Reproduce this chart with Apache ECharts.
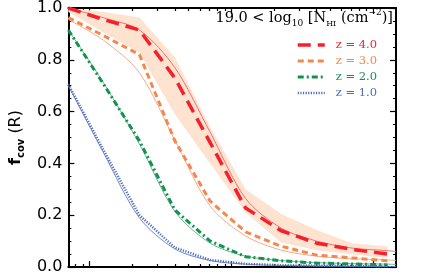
<!DOCTYPE html>
<html><head><meta charset="utf-8">
<script src="https://cdn.jsdelivr.net/npm/echarts@6/dist/echarts.min.js"></script>
<style>html,body{margin:0;padding:0;background:#fff}#c{width:440px;height:275px}</style>
</head><body><div id="c"></div>
<script>
// radius bins (log x axis) and model sampling
const R      = [7.1, 12.6, 22.5, 40, 71, 126, 225, 400, 710, 1265];
const Rmodel = [7.1, 12.6, 22.5, 40, 71, 126, 225, 400, 710, 1265, 1450];
const xRange = [7.1, 1450];

// measured covering fractions
const z4 = [1.0, 0.955, 0.915, 0.73, 0.48, 0.228, 0.14, 0.092, 0.068, 0.05];
const z3 = [0.963, 0.893, 0.82, 0.487, 0.254, 0.136, 0.08, 0.046, 0.035, 0.024];
const z2 = [0.915, 0.705, 0.487, 0.22, 0.1, 0.04, 0.024, 0.015, 0.012, 0.008];
const z1 = [0.705, 0.45, 0.2, 0.075, 0.027, 0.012, 0.007, 0.005, 0.004, 0.003];

// z=4 uncertainty band
const z4Hi = [1.0, 0.985, 0.963, 0.81, 0.54, 0.30, 0.205, 0.143, 0.092, 0.08];
const z4Lo = [0.985, 0.905, 0.827, 0.59, 0.40, 0.21, 0.095, 0.065, 0.048, 0.035];

// model curves (thin lines)
const m4 = [1.0, 0.962, 0.915, 0.77, 0.52, 0.265, 0.15, 0.10, 0.073, 0.063, 0.06];
const m3 = [0.955, 0.875, 0.75, 0.49, 0.235, 0.12, 0.065, 0.042, 0.032, 0.027, 0.025];
const m2 = [0.915, 0.71, 0.475, 0.215, 0.092, 0.042, 0.025, 0.017, 0.013, 0.011, 0.01];
const m1 = [0.70, 0.44, 0.19, 0.07, 0.025, 0.011, 0.006, 0.004, 0.003, 0.002, 0.002];

const names = ['z = 4.0', 'z = 3.0', 'z = 2.0', 'z = 1.0'];
const yTicks = [0, 0.2, 0.4, 0.6, 0.8, 1.0];
const xMajorTicks = [10, 100, 1000];
const xMinorTicks = [8, 9, 20, 30, 40, 50, 60, 70, 80, 90, 200, 300, 400, 500, 600, 700, 800, 900];

const RED = '#f5202c', ORANGE = '#f4874b', GREEN = '#13924f', BLUE = '#4b6cbf';
const RED_T = '#f47070', ORANGE_T = '#f7ab8c', GREEN_T = '#62bd8d', BLUE_T = '#7288c8';
const BAND = '#fde3d0';

const L = Math.log10;
const pts = (xs, ys) => xs.map((x, i) => [L(x), ys[i]]);

function xAx(pos, vals, len, showLine) {
  return {
    type: 'value', position: pos, min: L(xRange[0]), max: L(xRange[1]),
    axisLine: { show: showLine, onZero: false, lineStyle: { color: '#000', width: 2 } },
    axisTick: { show: true, inside: true, length: len, customValues: vals.map(L),
                lineStyle: { color: '#000', width: 1.2 } },
    axisLabel: { show: false }, splitLine: { show: false }
  };
}
function yAx(pos, labels) {
  return {
    type: 'value', position: pos, min: yTicks[0], max: yTicks[yTicks.length - 1], interval: 0.2,
    axisLine: { show: true, lineStyle: { color: '#000', width: 2 } },
    axisTick: { show: true, inside: true, length: 6, lineStyle: { color: '#000', width: 1.2 } },
    minorTick: { show: true, splitNumber: 4, length: 3, lineStyle: { color: '#000', width: 1 } },
    axisLabel: { show: labels, fontFamily: 'DejaVu Sans', fontSize: 16, color: '#000', margin: 6,
                 formatter: v => v.toFixed(1) },
    splitLine: { show: false }, minorSplitLine: { show: false }
  };
}

const yLeft = yAx('left', true);
yLeft.name = '{f|f}{s|cov} {r|(R)}';
yLeft.nameLocation = 'middle';
yLeft.nameGap = 42;
yLeft.nameTextStyle = {
  color: '#000', fontFamily: 'DejaVu Sans', fontSize: 16,
  rich: {
    f: { fontSize: 16, fontWeight: 'bold', lineHeight: 20, fontFamily: 'DejaVu Sans', color: '#000' },
    s: { fontSize: 10, fontWeight: 'bold', lineHeight: 10, verticalAlign: 'bottom', fontFamily: 'DejaVu Sans', color: '#000' },
    r: { fontSize: 16, lineHeight: 20, fontFamily: 'DejaVu Sans', color: '#000' }
  }
};

function thick(name, ys, color, width, dash) {
  return { name, type: 'line', data: pts(R, ys), showSymbol: false, symbol: 'none', z: 4,
           lineStyle: { color, width, type: dash, cap: 'butt' }, itemStyle: { color } };
}
function thin(ys, color) {
  return { type: 'line', data: pts(Rmodel, ys), showSymbol: false, symbol: 'none', z: 3,
           smooth: 0.3, lineStyle: { color, width: 1 }, silent: true };
}

const chart = echarts.init(document.getElementById('c'), null, { renderer: 'canvas' });
chart.setOption({
  animation: false,
  backgroundColor: '#fff',
  grid: { left: 66, right: 44, top: 1, bottom: 3, containLabel: false },
  title: {
    text: '19.0 < log{sub|10} [N{sub2|HI} (cm{sup|−2})]',
    right: 47, top: 8, padding: 0,
    textStyle: {
      fontFamily: 'DejaVu Serif', fontSize: 14.5, fontWeight: 'normal', color: '#000', lineHeight: 20,
      rich: {
        sub: { fontFamily: 'DejaVu Serif', fontSize: 9, lineHeight: 10, verticalAlign: 'bottom', color: '#000' },
        sub2: { fontFamily: 'DejaVu Serif', fontSize: 8, lineHeight: 10, verticalAlign: 'bottom', color: '#000' },
        sup: { fontFamily: 'DejaVu Serif', fontSize: 9, lineHeight: 10, verticalAlign: 'top', color: '#000' }
      }
    }
  },
  legend: {
    orient: 'vertical', left: 291, top: 34, itemWidth: 27, itemHeight: 8, itemGap: 4,
    selectedMode: false,
    itemStyle: { opacity: 0 },
    lineStyle: { width: 'inherit' },
    textStyle: { fontFamily: 'DejaVu Serif', fontSize: 11.5, padding: [0, 0, 0, 6] },
    data: [
      { name: names[0], textStyle: { color: RED } },
      { name: names[1], textStyle: { color: ORANGE } },
      { name: names[2], textStyle: { color: GREEN } },
      { name: names[3], textStyle: { color: BLUE } }
    ]
  },
  xAxis: [
    xAx('bottom', xMajorTicks, 6, true),
    xAx('bottom', xMinorTicks, 3, false),
    xAx('top', xMajorTicks, 6, true),
    xAx('top', xMinorTicks, 3, false)
  ],
  yAxis: [yLeft, yAx('right', false)],
  series: [
    {
      type: 'custom', z: 1, silent: true, clip: true,
      data: [[L(R[0]), z4Hi[0]]],
      renderItem: function (params, api) {
        const p = [];
        for (let i = 0; i < R.length; i++) p.push(api.coord([L(R[i]), z4Hi[i]]));
        for (let i = R.length - 1; i >= 0; i--) p.push(api.coord([L(R[i]), z4Lo[i]]));
        return { type: 'polygon', shape: { points: p }, style: { fill: BAND } };
      }
    },
    thin(m4, RED_T), thin(m3, ORANGE_T), thin(m2, GREEN_T), thin(m1, BLUE_T),
    thick(names[0], z4, RED, 3.5, [13, 7]),
    thick(names[1], z3, ORANGE, 3, [6, 4]),
    thick(names[2], z2, GREEN, 3, [6, 3, 2, 3]),
    thick(names[3], z1, BLUE, 2.5, [1.2, 1.4])
  ]
});
</script></body></html>
